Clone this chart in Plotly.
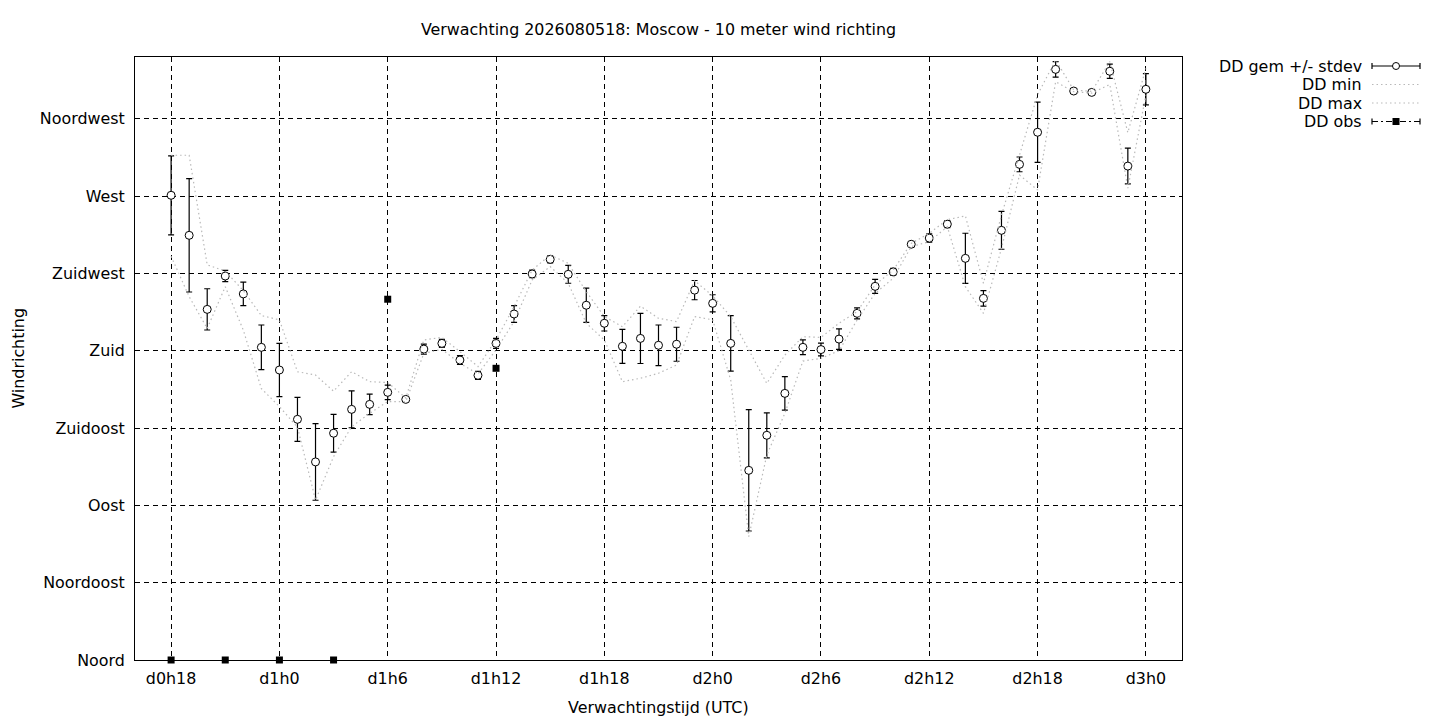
import plotly.graph_objects as go

# ---- data ----
hours = [18, 19, 20, 21, 22, 23, 24, 25, 26, 27, 28, 29, 30, 31, 32, 33, 34, 35, 36,
         37, 38, 39, 40, 41, 42, 43, 44, 45, 46, 47, 48, 49, 50, 51, 52, 53, 54, 55,
         56, 57, 58, 59, 60, 61, 62, 63, 64, 65, 66, 67, 68, 69, 70, 71, 72]

dd_mean = [270.5, 247.2, 204.1, 223.5, 213.1, 182.0, 168.8, 140.1, 115.3, 132.0, 145.9,
           148.8, 155.8, 151.7, 181.0, 184.3, 174.6, 165.7, 184.3, 201.4, 224.7, 233.2,
           224.5, 206.5, 196.0, 182.6, 187.2, 183.2, 183.8, 215.3, 207.6, 184.3, 110.4,
           130.8, 155.2, 182.0, 180.7, 186.8, 201.8, 217.5, 225.9, 242.0, 245.6, 253.7,
           233.8, 210.5, 250.1, 288.5, 307.2, 343.8, 331.2, 330.4, 342.7, 287.5, 332.2]

dd_sd = [23.0, 33.0, 12.0, 3.3, 6.8, 13.0, 15.5, 12.8, 22.3, 11.0, 10.7,
         6.0, 4.2, 1.2, 2.9, 2.3, 2.6, 2.3, 2.9, 4.9, 2.2, 2.1,
         5.2, 10.0, 4.5, 9.9, 14.6, 11.8, 9.9, 5.6, 5.0, 16.2, 35.3,
         13.1, 9.8, 4.3, 3.7, 6.0, 3.2, 4.1, 2.1, 1.6, 2.4, 2.1,
         14.6, 4.5, 11.0, 4.3, 17.5, 4.5, 1.0, 1.0, 4.2, 10.4, 9.1]

dd_min = [235.0, 211.5, 193.0, 217.3, 192.0, 158.0, 147.5, 135.5, 93.1, 118.4, 135.8,
          143.6, 150.4, 150.4, 178.5, 180.8, 172.7, 166.5, 180.5, 197.0, 221.2, 229.0,
          219.3, 196.0, 186.3, 162.0, 164.0, 166.9, 171.7, 199.9, 198.0, 163.0, 71.8,
          119.3, 143.6, 174.0, 175.6, 180.0, 197.9, 213.4, 222.2, 240.6, 243.5, 252.2,
          217.3, 201.8, 239.6, 282.3, 273.6, 336.6, 330.8, 330.0, 335.0, 274.6, 328.9]

dd_max = [293.8, 293.8, 230.0, 226.4, 215.0, 200.5, 198.0, 167.8, 165.9, 156.5, 167.8,
          162.0, 161.5, 152.5, 186.3, 187.8, 179.5, 170.8, 186.3, 205.7, 227.0, 235.8,
          230.9, 214.4, 199.9, 194.0, 206.0, 198.9, 197.0, 220.8, 212.0, 199.9, 180.5,
          161.0, 177.5, 188.2, 187.8, 196.0, 202.8, 218.3, 227.0, 242.5, 248.4, 256.3,
          258.5, 219.3, 259.0, 294.0, 329.0, 349.3, 331.8, 331.0, 348.3, 307.0, 344.4]

N = None
dd_obs = [0, N, N, 0, N, N, 0, N, N, 0, N, N, 210.0, N, N, N, N, N, 169.8,
          N, N, N, N, N, N, N, N, N, N, N, N, N, N, N, N, N, N, N,
          N, N, N, N, N, N, N, N, N, N, N, N, N, N, N, N, N]

x_tickvals = [18, 24, 30, 36, 42, 48, 54, 60, 66, 72]
x_ticktext = ["d0h18", "d1h0", "d1h6", "d1h12", "d1h18", "d2h0", "d2h6", "d2h12", "d2h18", "d3h0"]
y_tickvals = [0, 45, 90, 135, 180, 225, 270, 315]
y_ticktext = ["Noord", "Noordoost", "Oost", "Zuidoost", "Zuid", "Zuidwest", "West", "Noordwest"]

legend_names = ["DD gem +/- stdev", "DD min", "DD max", "DD obs"]

title_text = "Verwachting 2026080518: Moscow - 10 meter wind richting"
xlabel = "Verwachtingstijd (UTC)"
ylabel = "Windrichting"

# ---- figure ----
FONT = "DejaVu Sans"
FS = 15.9
W, H = 1440, 720
L, R, T, B = 135, 258, 57, 60
PW, PH = W - L - R, H - T - B
GREY = "rgb(185,185,185)"
DOTS = "1.5px,3px"

fig = go.Figure()

fig.add_trace(go.Scatter(
    x=hours, y=dd_mean, mode="markers", name=legend_names[0],
    marker=dict(symbol="circle", size=8, color="white", line=dict(color="black", width=1)),
    error_y=dict(type="data", array=dd_sd, visible=True, color="black", thickness=1.2, width=3),
    cliponaxis=False, showlegend=False))

fig.add_trace(go.Scatter(
    x=hours, y=dd_min, mode="lines", name=legend_names[1],
    line=dict(color=GREY, width=1.2, dash=DOTS), showlegend=False))

fig.add_trace(go.Scatter(
    x=hours, y=dd_max, mode="lines", name=legend_names[2],
    line=dict(color=GREY, width=1.2, dash=DOTS), showlegend=False))

fig.add_trace(go.Scatter(
    x=hours, y=dd_obs, mode="lines+markers", name=legend_names[3],
    marker=dict(symbol="square", size=7, color="black"),
    line=dict(color="black", width=1, dash="6px,3px,2px,3px"),
    connectgaps=False, cliponaxis=False, showlegend=False))

axis_common = dict(
    showgrid=True, gridcolor="black", gridwidth=1, griddash="5px,4px",
    showline=True, linecolor="black", linewidth=1, mirror=True,
    zeroline=False, ticks="", tickfont=dict(family=FONT, size=FS, color="black"),
)

fig.update_layout(
    width=W, height=H, autosize=False,
    margin=dict(l=L, r=R, t=T, b=B, pad=0),
    paper_bgcolor="white", plot_bgcolor="white",
    font=dict(family=FONT, size=FS, color="black"),
    title=dict(text=title_text, x=0.5, xref="paper", xanchor="center",
               y=1 - 29 / H, yref="container", yanchor="middle",
               font=dict(family=FONT, size=FS, color="black")),
    xaxis=dict(range=[16, 74], tickmode="array", tickvals=x_tickvals, ticktext=x_ticktext,
               ticklabelstandoff=4, **axis_common),
    yaxis=dict(range=[0, 351], tickmode="array", tickvals=y_tickvals, ticktext=y_ticktext,
               ticklabelstandoff=6, **axis_common),
    showlegend=False,
)

# axis titles as annotations
fig.add_annotation(text=xlabel, x=0.5, y=0, xref="paper", yref="paper",
                   xanchor="center", yanchor="middle", yshift=-(707 - 660),
                   showarrow=False, font=dict(family=FONT, size=FS, color="black"))
fig.add_annotation(text=ylabel, x=0, y=0.5, xref="paper", yref="paper",
                   xanchor="center", yanchor="middle", xshift=-(L - 18), textangle=-90,
                   showarrow=False, font=dict(family=FONT, size=FS, color="black"))

# ---- custom gnuplot-like legend (text left of sample) ----
def px(xp):
    return (xp - L) / PW

def py(yp):
    return (T + PH - yp) / PH

leg_text_x = 1364
s0, s1, sc = 1372, 1420, 1396
rows = [66, 84.5, 103, 121.5]

for name, yrow in zip(legend_names, rows):
    fig.add_annotation(text=name, x=px(leg_text_x), y=py(yrow), xref="paper", yref="paper",
                       xanchor="right", yanchor="middle", showarrow=False,
                       font=dict(family=FONT, size=FS, color="black"))

def cap(xp, yp):
    fig.add_shape(type="line", xref="paper", yref="paper", x0=px(xp), x1=px(xp),
                  ysizemode="pixel", yanchor=py(yp), y0=-3, y1=3,
                  line=dict(color="black", width=1.2), layer="above")

# DD gem
y0 = rows[0]
fig.add_shape(type="line", xref="paper", yref="paper", x0=px(s0), x1=px(s1), y0=py(y0), y1=py(y0),
              line=dict(color="black", width=1.2), layer="above")
cap(s0, y0); cap(s1, y0)
fig.add_shape(type="circle", xref="paper", yref="paper", xsizemode="pixel", ysizemode="pixel",
              xanchor=px(sc), yanchor=py(y0), x0=-3.5, x1=3.5, y0=-3.5, y1=3.5,
              fillcolor="white", line=dict(color="black", width=1), layer="above")
# DD min / max
for yrow in rows[1:3]:
    fig.add_shape(type="line", xref="paper", yref="paper", x0=px(s0), x1=px(s1),
                  y0=py(yrow), y1=py(yrow),
                  line=dict(color=GREY, width=1.2, dash=DOTS), layer="above")
# DD obs
y3 = rows[3]
fig.add_shape(type="line", xref="paper", yref="paper", x0=px(s0), x1=px(s1), y0=py(y3), y1=py(y3),
              line=dict(color="black", width=1, dash="6px,3px,2px,3px"), layer="above")
cap(s0, y3); cap(s1, y3)
fig.add_shape(type="rect", xref="paper", yref="paper", xsizemode="pixel", ysizemode="pixel",
              xanchor=px(sc), yanchor=py(y3), x0=-3.5, x1=3.5, y0=-3.5, y1=3.5,
              fillcolor="black", line=dict(color="black", width=0), layer="above")

fig.write_html("out.html", config={"displayModeBar": False},
               post_script="document.body.style.margin='0';")
